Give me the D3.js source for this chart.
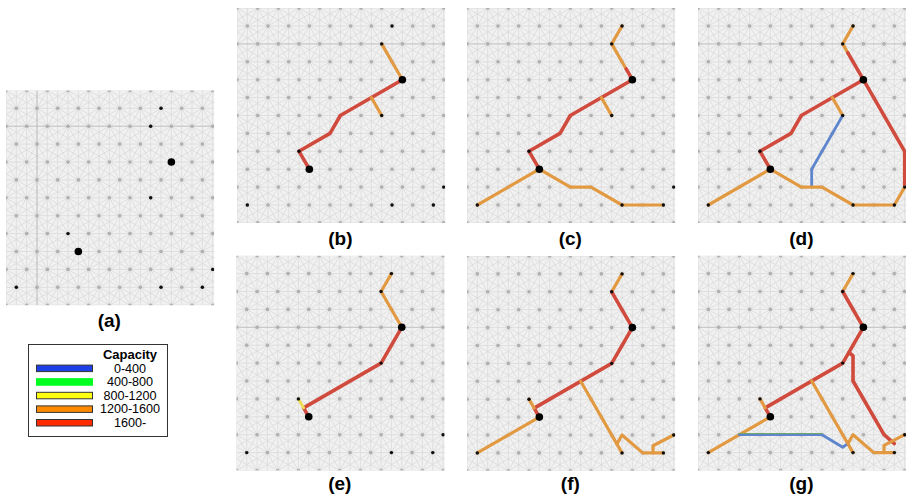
<!DOCTYPE html>
<html>
<head>
<meta charset="utf-8">
<script src="https://cdn.jsdelivr.net/npm/d3@7"></script>
<style>
body { margin: 0; background: #fff; }
text { font-family: "Liberation Sans", sans-serif; fill: #000; }
</style>
</head>
<body>
<script>
// capacity classes for the legend
var capacityLabels = ["0-400", "400-800", "800-1200", "1200-1600", "1600-"];
var panelLabels = ["(a)", "(b)", "(c)", "(d)", "(e)", "(f)", "(g)"];

// terminals in lattice coordinates [column, row]
var smallTerminals = [[15, 1], [14, 2], [14, 6], [6, 8], [20, 10], [1, 11], [15, 11], [19, 11]];
var bigTerminals = [[16, 4], [7, 9]];

// links per panel: [capacity class, points...]
var linksA = [];
var linksB = [
  [3, [14, 2], [16, 4]],
  [4, [16, 4], [10, 6], [9, 7], [6, 8], [7, 9]],
  [3, [13, 5], [14, 6]]
];
var linksC = [
  [3, [15, 1], [14, 2], [15.4, 3.4]],
  [4, [15.4, 3.4], [16, 4], [10, 6], [9, 7], [6, 8], [7, 9]],
  [3, [13, 5], [14, 6]],
  [3, [1, 11], [7, 9], [10, 10], [12, 10], [15, 11], [19, 11]]
];
var linksD = [
  [3, [15, 1], [14, 2], [14.5, 2.5]],
  [4, [14.5, 2.5], [16, 4], [20, 8], [20, 10]],
  [4, [16, 4], [10, 6], [9, 7], [6, 8], [7, 9]],
  [3, [13, 5], [14, 6]],
  [0, [14, 6], [11, 9], [11, 10]],
  [3, [1, 11], [7, 9], [10, 10], [12, 10], [15, 11], [19, 11], [20, 10]]
];
var linksE = [
  [3, [15, 1], [14, 2], [16, 4]],
  [4, [16, 4], [14, 6], [6.5, 8.5], [7, 9]],
  [2, [6, 8], [6.5, 8.5]]
];
var linksF = [
  [3, [15, 1], [14, 2]],
  [4, [14, 2], [16, 4], [14, 6], [6.5, 8.5], [7, 9]],
  [3, [6, 8], [6.5, 8.5]],
  [3, [1, 11], [7, 9]],
  [3, [11, 7], [15, 11]],
  [3, [14.5, 10.5], [15, 10], [17, 11], [19, 11]],
  [3, [18, 11], [18, 10.6], [20, 10]]
];
var linksG = [
  [3, [15, 1], [14, 2]],
  [4, [14, 2], [16, 4], [14, 6], [6.5, 8.5], [7, 9]],
  [3, [6, 8], [6.5, 8.5]],
  [3, [1, 11], [7, 9]],
  [3, [11, 7], [15, 11]],
  [0, [4, 10], [12, 10], [14, 10.7], [14.5, 10.5]],
  [1, [4, 10], [12, 10]],
  [4, [14.6, 5.4], [15, 5.6], [15, 7], [18, 10], [19, 10.5]],
  [3, [14.5, 10.5], [15, 10], [17, 11], [19, 11]],
  [3, [18, 11], [18, 10.6], [20, 10]]
];
var panelLinks = [linksA, linksB, linksC, linksD, linksE, linksF, linksG];

// the darker grid lines each panel shows
var darkColumns = [[3], [], [], [], [], [], []];
var darkRows = [[2], [2], [2], [2], [4], [], [4]];

var panelLeft = [6, 237, 467, 698, 236.4, 467, 698];
var panelTop = [90.4, 8.1, 8.1, 8.1, 255.7, 256, 255.7];
var panelW = 206.7, panelH = 214.8;
var labelY = [327, 245, 245, 245, 490, 490, 490];

var svg = d3.select("body").append("svg")
  .attr("width", 906)
  .attr("height", 497);

var defs = svg.append("defs");
defs.append("filter").attr("id", "soft")
  .attr("x", "-5%").attr("y", "-5%").attr("width", "110%").attr("height", "110%")
  .append("feGaussianBlur").attr("stdDeviation", 0.65);
defs.append("filter").attr("id", "softer")
  .attr("x", "-5%").attr("y", "-5%").attr("width", "110%").attr("height", "110%")
  .append("feGaussianBlur").attr("stdDeviation", 0.55);

var colour = d3.scaleOrdinal([0, 1, 2, 3, 4], ["#5f86cc", "#6fa86a", "#eddc55", "#e29a42", "#d04b3e"]);
var widths = [2.8, 1, 3, 3.2, 3.6];

// lattice nodes
var grid = [];
d3.range(-2, 15).forEach(function (r) {
  d3.range(-4, 25).forEach(function (c) {
    if ((c + r + 20) % 2 === 0) grid.push([c, r]);
  });
});
// neighbour steps of the lattice: near ones and the second ring
var stepsNear = [[2, 0], [1, 1], [-1, 1]];
var stepsFar = [[0, 2], [3, 1], [-3, 1]];

panelLeft.forEach(function (left, i) {
  var x = d3.scaleLinear().domain([0, 20]).range([left, left + panelW]);
  var y = d3.scaleLinear().domain([0, 12]).range([panelTop[i], panelTop[i] + panelH]);
  var line = d3.line().x(function (d) { return x(d[0]); }).y(function (d) { return y(d[1]); });

  var clipId = "clip" + i;
  defs.append("clipPath").attr("id", clipId).append("rect")
    .attr("x", left).attr("y", panelTop[i])
    .attr("width", panelW + 1.5).attr("height", panelH);

  var g = svg.append("g").attr("clip-path", "url(#" + clipId + ")");
  var back = g.append("g").attr("filter", "url(#soft)");

  back.append("rect")
    .attr("x", left - 3).attr("y", panelTop[i] - 3)
    .attr("width", panelW + 8).attr("height", panelH + 6)
    .attr("fill", "#f1f1f1");

  function drawSteps(steps, col, w) {
    steps.forEach(function (s) {
      back.selectAll(null).data(grid).enter().append("line")
        .attr("x1", function (d) { return x(d[0]); })
        .attr("y1", function (d) { return y(d[1]); })
        .attr("x2", function (d) { return x(d[0] + s[0]); })
        .attr("y2", function (d) { return y(d[1] + s[1]); })
        .attr("stroke", col)
        .attr("stroke-width", w);
    });
  }
  drawSteps(stepsFar, "#dbdbdb", 0.8);
  drawSteps(stepsNear, "#d9d9d9", 0.8);

  back.selectAll(null).data(darkColumns[i]).enter().append("line")
    .attr("x1", function (d) { return x(d); }).attr("x2", function (d) { return x(d); })
    .attr("y1", y(0)).attr("y2", y(12))
    .attr("stroke", "#b0b0b0").attr("stroke-width", 0.7);
  back.selectAll(null).data(darkRows[i]).enter().append("line")
    .attr("y1", function (d) { return y(d); }).attr("y2", function (d) { return y(d); })
    .attr("x1", x(0)).attr("x2", x(20.2))
    .attr("stroke", "#b8b8b8").attr("stroke-width", 0.7);

  back.selectAll(null).data(grid).enter().append("circle")
    .attr("cx", function (d) { return x(d[0]); })
    .attr("cy", function (d) { return y(d[1]); })
    .attr("r", 1.8)
    .attr("fill", "#b0b0b0");

  // links and terminals
  var front = g.append("g").attr("filter", "url(#softer)");
  front.selectAll("path").data(panelLinks[i]).enter().append("path")
    .attr("d", function (d) { return line(d.slice(1)); })
    .attr("fill", "none")
    .attr("stroke", function (d) { return colour(d[0]); })
    .attr("stroke-width", function (d) { return widths[d[0]]; })
    .attr("stroke-linejoin", "round")
    .attr("stroke-linecap", "round")
    .attr("transform", function (d) { return d[0] === 1 ? "translate(0,-1.2)" : null; });

  front.selectAll("circle.small").data(smallTerminals).enter().append("circle")
    .attr("class", "small")
    .attr("cx", function (d) { return x(d[0]); })
    .attr("cy", function (d) { return y(d[1]); })
    .attr("r", 1.7)
    .attr("fill", "#111");
  front.selectAll("circle.big").data(bigTerminals).enter().append("circle")
    .attr("class", "big")
    .attr("cx", function (d) { return x(d[0]); })
    .attr("cy", function (d) { return y(d[1]); })
    .attr("r", 3.8)
    .attr("fill", "#000");

  svg.append("text")
    .attr("x", left + panelW / 2)
    .attr("y", labelY[i])
    .attr("text-anchor", "middle")
    .attr("font-size", 19)
    .attr("font-weight", "bold")
    .text(panelLabels[i]);
});

// legend
var legendColours = ["#1f3fe6", "#00ff1e", "#ffff10", "#ff8a00", "#ff2a00"];
var legendY = d3.scalePoint().domain(capacityLabels).range([368.3, 422.7]);
var legend = svg.append("g");
legend.append("rect")
  .attr("x", 28.5).attr("y", 344.5).attr("width", 139).attr("height", 92)
  .attr("fill", "#fff").attr("stroke", "#333").attr("stroke-width", 1);
legend.append("text")
  .attr("x", 130).attr("y", 358.8)
  .attr("text-anchor", "middle")
  .attr("font-size", 13).attr("font-weight", "bold")
  .text("Capacity");
legend.selectAll("rect.swatch").data(capacityLabels).enter().append("rect")
  .attr("class", "swatch")
  .attr("x", 36.5)
  .attr("y", function (d) { return legendY(d) - 3.2; })
  .attr("width", 56)
  .attr("height", 6.5)
  .attr("fill", function (d, i) { return legendColours[i]; })
  .attr("stroke", function (d, i) { return i === 1 ? legendColours[i] : "#333"; })
  .attr("stroke-width", 1);
legend.selectAll("text.cap").data(capacityLabels).enter().append("text")
  .attr("class", "cap")
  .attr("x", 130)
  .attr("y", function (d) { return legendY(d) + 4.3; })
  .attr("text-anchor", "middle")
  .attr("font-size", 12.6)
  .text(function (d) { return d; });
</script>
</body>
</html>
